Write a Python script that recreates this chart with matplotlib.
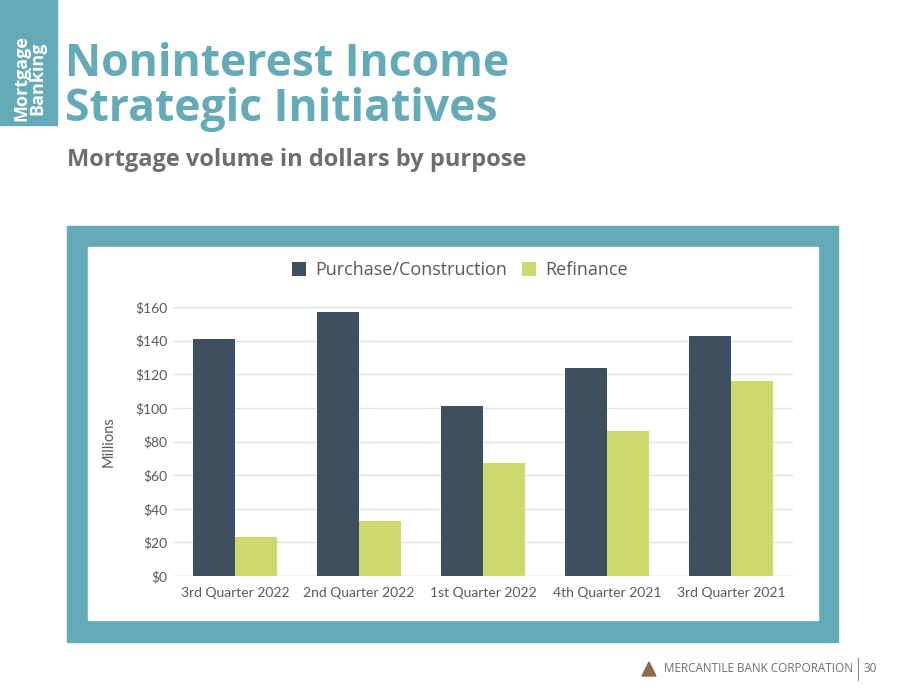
import numpy as np
import matplotlib.pyplot as plt
from matplotlib.patches import Rectangle, Polygon

# === Дані ===
quarters = ['3rd Quarter 2022', '2nd Quarter 2022', '1st Quarter 2022',
            '4th Quarter 2021', '3rd Quarter 2021']
purchase = [141, 157, 101, 124, 143]
refinance = [23, 33, 67, 86, 116]
yticks = [0, 20, 40, 60, 80, 100, 120, 140, 160]

teal = '#64aab7'
dark = '#3e5060'
green = '#cdd96c'

fig = plt.figure(figsize=(9, 6.95), dpi=100)
W, H = 900, 695

def fx(x):
    return x / W

def fy(y):
    return 1 - y / H

# бічна плашка
fig.patches.append(Rectangle((0, fy(125)), fx(57), 125 / H, transform=fig.transFigure,
                             color=teal, zorder=0))
fig.text(fx(29), fy(78), 'Mortgage\nBanking', rotation=90, color='white',
         fontsize=13, fontweight='bold', family='Open Sans', ha='center', va='center',
         linespacing=0.85)

fig.text(fx(65), fy(64), 'Noninterest Income', color=teal, fontsize=32,
         fontweight='bold', family='Open Sans', ha='left', va='center')
fig.text(fx(65), fy(110), 'Strategic Initiatives', color=teal, fontsize=32,
         fontweight='bold', family='Open Sans', ha='left', va='center')
fig.text(fx(67), fy(160), 'Mortgage volume in dollars by purpose', color='#6e6e6e',
         fontsize=17, fontweight='bold', family='Open Sans', ha='left', va='center')

# рамка графіка
fig.patches.append(Rectangle((fx(67), fy(642)), fx(838 - 67), (642 - 226) / H,
                             transform=fig.transFigure, color=teal, zorder=0))
fig.patches.append(Rectangle((fx(88), fy(620)), fx(818 - 88), (620 - 247) / H,
                             transform=fig.transFigure, color='white', zorder=0))

# === Графік ===
ax = fig.add_axes([fx(173), fy(576), fx(793 - 173), (576 - 307) / H])
ax.set_zorder(5)
x = np.arange(len(quarters))
w = 0.335
ax.bar(x - w / 2, purchase, w, color=dark, label='Purchase/Construction', zorder=3)
ax.bar(x + w / 2, refinance, w, color=green, label='Refinance', zorder=3)

ax.set_xlim(-0.5, len(quarters) - 0.5)
ax.set_ylim(0, 160)
ax.set_yticks(yticks)
ax.set_yticklabels([f'${v}' for v in yticks], color='#595959', fontsize=10, family='Lato')
ax.set_xticks(x)
ax.set_xticklabels(quarters, color='#595959', fontsize=10, family='Lato')
ax.tick_params(length=0)
ax.tick_params(axis='x', pad=8)
ax.tick_params(axis='y', pad=4)
ax.yaxis.grid(True, color='#e3e3e3', linewidth=1, zorder=0)
for s in ax.spines.values():
    s.set_visible(False)
ax.axhline(0, color='#d9d9d9', linewidth=1, zorder=2)
ax.set_ylabel('Millions', color='#595959', fontsize=10.5, family='Lato', labelpad=14)
ax.patch.set_alpha(0)

leg = fig.legend(loc='center', bbox_to_anchor=(fx(460), fy(270)), ncol=2, frameon=False,
                 prop={'family': 'Open Sans', 'size': 13},
                 handlelength=0.8, handleheight=0.8, columnspacing=0.8, handletextpad=0.5,
                 labelcolor='#595959')
leg.set_zorder(6)

# нижній колонтитул
fig.patches.append(Polygon([[fx(642), fy(676)], [fx(656), fy(676)], [fx(649), fy(662)]],
                           closed=True, transform=fig.transFigure, color='#8b6a4f'))
fig.text(fx(664), fy(669), 'MERCANTILE BANK CORPORATION', color='#6e6e6e', fontsize=8.5,
         family='Open Sans', ha='left', va='center')
fig.add_artist(plt.Line2D([fx(858), fx(858)], [fy(658), fy(680)], color='#888888',
                          linewidth=0.8, transform=fig.transFigure))
fig.text(fx(864), fy(669), '30', color='#6e6e6e', fontsize=8.5, family='Open Sans',
         ha='left', va='center')

fig.savefig('out.png', dpi=100)
